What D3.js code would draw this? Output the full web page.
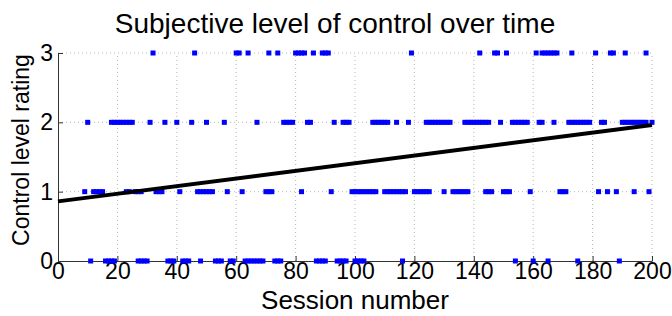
<!DOCTYPE html>
<html>
<head>
<meta charset="utf-8">
<script src="https://cdn.jsdelivr.net/npm/d3@7"></script>
<style>
  html, body { margin: 0; padding: 0; background: #fff; }
  svg { display: block; }
  text { font-family: "Liberation Sans", Arial, sans-serif; fill: #000; }
</style>
</head>
<body>
<svg id="chart" width="672" height="316"></svg>
<script>
// ---- data ----
const title = "Subjective level of control over time";
const xLabel = "Session number";
const yLabel = "Control level rating";
const xTicks = [0, 20, 40, 60, 80, 100, 120, 140, 160, 180, 200];
const yTicks = [0, 1, 2, 3];

const sessionsRating3 = [32, 46, 60, 61, 64, 71, 74, 80, 81, 82, 83, 86, 89, 90, 91,
  119, 142, 147, 148, 151, 161, 163, 164, 165, 166, 167, 168, 173, 181, 186, 187, 191, 198];
const sessionsRating2 = [10, 18, 19, 20, 21, 22, 23, 24, 25, 31, 36, 40, 45, 50, 56, 67,
  76, 77, 78, 79, 84, 85, 93, 96, 97, 98, 106, 107, 108, 109, 110, 111, 114, 118,
  124, 125, 126, 127, 128, 129, 130, 131, 132, 137, 138, 139, 140, 141, 142, 143, 144, 145,
  149, 153, 154, 155, 156, 157, 158, 162, 163, 167, 172, 173, 174, 175, 176, 177, 178, 179,
  183, 184, 190, 191, 192, 193, 194, 195, 196, 197, 198, 200];
const sessionsRating1 = [9, 12, 13, 14, 15, 23, 24, 26, 27, 28, 33, 34, 35, 41,
  47, 48, 49, 50, 51, 52, 57, 62, 70, 71, 72, 82, 92,
  99, 100, 101, 102, 103, 104, 105, 106, 107, 110, 111, 112, 113, 114, 115, 116, 117,
  120, 121, 122, 123, 124, 125, 130, 133, 134, 135, 136, 137, 138, 144, 145, 146,
  150, 151, 152, 159, 169, 170, 171, 182, 185, 188, 194, 199];
const sessionsRating0 = [11, 16, 17, 18, 19, 27, 28, 29, 30, 37, 38, 39, 42, 43, 44, 48,
  53, 54, 55, 58, 59, 63, 64, 65, 66, 67, 68, 69, 73, 74, 75, 87, 88, 89, 90,
  94, 95, 96, 97, 100, 101, 102, 103, 116, 154, 160, 165, 175, 189];

const fitX = [0, 200];
const fitY = [0.86, 1.96];

// ---- build ----
const ratingGroups = [
  { rating: 3, sessions: sessionsRating3 },
  { rating: 2, sessions: sessionsRating2 },
  { rating: 1, sessions: sessionsRating1 },
  { rating: 0, sessions: sessionsRating0 }
];
const points = ratingGroups.flatMap(g => g.sessions.map(s => ({ x: s, y: g.rating })));

const svg = d3.select("#chart");
const x = d3.scaleLinear().domain([0, 200]).range([58, 652]);
const y = d3.scaleLinear().domain([0, 3]).range([261, 53]);

// grid
const grid = svg.append("g");
grid.selectAll("line.gx").data(xTicks.filter(t => t > 0)).join("line")
  .attr("x1", d => x(d)).attr("x2", d => x(d))
  .attr("y1", y(0)).attr("y2", y(3))
  .attr("stroke", "#b8b8b8").attr("stroke-width", 1)
  .attr("stroke-dasharray", "1,3");
grid.selectAll("line.gy").data(yTicks.filter(t => t > 0)).join("line")
  .attr("x1", x(0)).attr("x2", x(200))
  .attr("y1", d => y(d)).attr("y2", d => y(d))
  .attr("stroke", "#b8b8b8").attr("stroke-width", 1)
  .attr("stroke-dasharray", "1,3");

// axes
const xAxis = d3.axisBottom(x).tickValues(xTicks).tickFormat(d3.format("d"))
  .tickSize(-5).tickPadding(2).tickSizeOuter(0);
const yAxis = d3.axisLeft(y).tickValues(yTicks).tickFormat(d3.format("d"))
  .tickSize(-5).tickPadding(5).tickSizeOuter(0);
const gx = svg.append("g").attr("transform", `translate(0,${y(0)})`).call(xAxis);
const gy = svg.append("g").attr("transform", `translate(${x(0)},0)`).call(yAxis);
[gx, gy].forEach(g => {
  g.select(".domain").attr("stroke", "#333").attr("stroke-width", 1);
  g.selectAll(".tick line").attr("stroke", "#333");
  g.selectAll(".tick text").style("font-size", "23px").attr("fill", "#000")
    .style("font-family", "'Liberation Sans', Arial, sans-serif");
});

// points
svg.append("g").selectAll("rect").data(points).join("rect")
  .attr("x", d => x(d.x) - 2.5).attr("y", d => y(d.y) - 2.5)
  .attr("width", 5).attr("height", 5)
  .attr("fill", "#0000ff");

// fit line
const line = d3.line().x(d => x(d[0])).y(d => y(d[1]));
svg.append("path").datum(fitX.map((v, i) => [v, fitY[i]]))
  .attr("d", line).attr("fill", "none").attr("stroke", "#000").attr("stroke-width", 4);

// labels
svg.append("text").attr("x", 335).attr("y", 33).attr("text-anchor", "middle")
  .style("font-size", "28px").text(title);
svg.append("text").attr("x", 355).attr("y", 309).attr("text-anchor", "middle")
  .style("font-size", "26px").text(xLabel);
svg.append("text").attr("transform", "translate(29,150) rotate(-90)").attr("text-anchor", "middle")
  .style("font-size", "23px").text(yLabel);
</script>
</body>
</html>
